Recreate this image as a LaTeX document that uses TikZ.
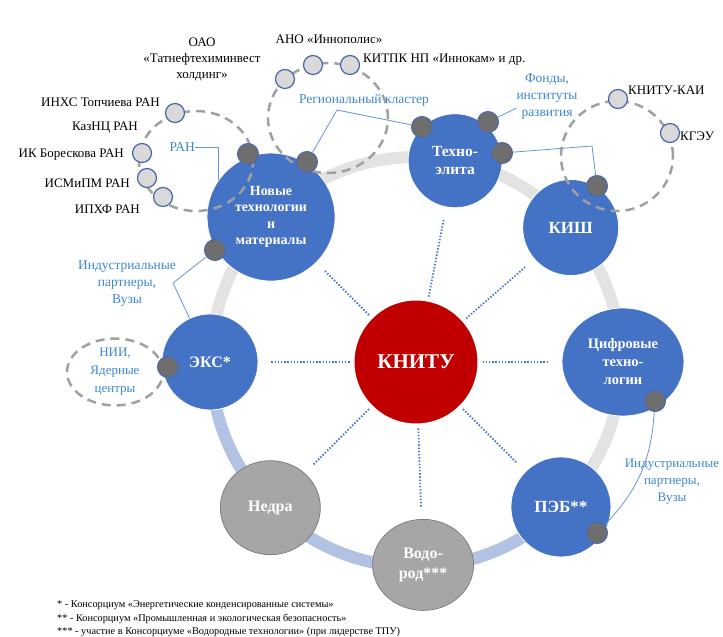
\documentclass[tikz,border=0pt]{standalone}
\usepackage{fontspec}
\setmainfont{Liberation Serif}
\usepackage{tikz}
\usetikzlibrary{positioning,calc,shapes.geometric}
\definecolor{nodeblue}{RGB}{68,114,196}
\definecolor{nodered}{RGB}{192,0,0}
\definecolor{nodegray}{RGB}{166,166,166}
\definecolor{ringgray}{RGB}{227,227,227}
\definecolor{ringblue}{RGB}{178,194,226}
\definecolor{hubdark}{RGB}{110,110,110}
\definecolor{memberlight}{RGB}{217,217,217}
\definecolor{dotedge}{RGB}{72,104,170}
\definecolor{dashgray}{RGB}{160,160,160}
\definecolor{calloutblue}{RGB}{100,150,215}
\definecolor{labelblue}{RGB}{60,135,205}
\newcommand{\fsz}[2]{\fontsize{#1}{#2}\selectfont}

\begin{document}
\begin{tikzpicture}[
  x=1pt, y=1pt,
  main/.style={circle, fill=nodered, draw=white, line width=1pt, text=white, font=\bfseries\fsz{21}{24}, minimum size=124pt, inner sep=0pt},
  bnode/.style={circle, fill=nodeblue, draw=white, line width=0.8pt, text=white, align=center, inner sep=0pt},
  gnode/.style={ellipse, fill=nodegray, draw=gray, line width=0.8pt, text=white, align=center, inner sep=0pt},
  hub/.style={circle, fill=hubdark, draw=dotedge, line width=1pt, minimum size=21pt, inner sep=0pt},
  member/.style={circle, fill=memberlight, draw=dotedge, line width=1.2pt, minimum size=19pt, inner sep=0pt},
  cluster/.style={ellipse, draw=dashgray, line width=2.5pt, dash pattern=on 9pt off 6pt, inner sep=0pt},
  link/.style={draw=nodeblue, line width=1.8pt, dash pattern=on 1.4pt off 1.8pt, shorten <=4pt, shorten >=12pt},
  callout/.style={draw=calloutblue, line width=0.8pt},
  lbl/.style={font=\fsz{13}{16}, align=center, inner sep=0pt},
  blbl/.style={lbl, font=\fsz{13.5}{17}, text=labelblue},
  note/.style={font=\fsz{10.3}{11}, anchor=west, inner sep=0pt}
]
\useasboundingbox (0,0) rectangle (723,-637);
\coordinate (c) at (416,-362);
% ring
\draw[ringgray, line width=12pt] (c) circle (205);
\draw[ringblue, line width=12pt] ($(c)+(180:205)$) arc (180:315:205);

% centre and consortia
\node[main] (knitu) at (c) {КНИТУ};
\node[bnode, minimum size=128pt, font=\bfseries\fsz{14}{16.5}] (novye) at ($(c)+(135:205)$) {Новые\\технологии\\и\\материалы};
\node[bnode, minimum size=94pt, font=\bfseries\fsz{15.5}{18}] (techno) at ($(c)+(79:205)$) {Техно-\\элита};
\node[bnode, minimum size=96pt, font=\bfseries\fsz{17}{20}] (kish) at ($(c)+(41:205)$) {КИШ};
\node[bnode, ellipse, minimum width=122pt, minimum height=108pt, font=\bfseries\fsz{14.5}{18}] (cifra) at ($(c)+(0:207)$) {Цифровые\\техно-\\логии};
\node[bnode, minimum size=100pt, font=\bfseries\fsz{17}{20}] (peb) at ($(c)+(-45:205)$) {ПЭБ**};
\node[gnode, minimum width=101pt, minimum height=91pt, font=\bfseries\fsz{16}{20}] (vodorod) at ($(c)+(-88:203)$) {Водо-\\род***};
\node[gnode, minimum width=100pt, minimum height=94pt, font=\bfseries\fsz{16}{20}] (nedra) at ($(c)+(-135:206)$) {Недра};
\node[bnode, minimum size=96pt, font=\bfseries\fsz{16}{20}] (eks) at ($(c)+(180:206)$) {ЭКС*};

\draw[link] (knitu) -- (novye);
\draw[link] (knitu) -- (techno);
\draw[link] (knitu) -- (kish);
\draw[link] (knitu) -- (cifra);
\draw[link] (knitu) -- (peb);
\draw[link] (knitu) -- (vodorod);
\draw[link] (knitu) -- (nedra);
\draw[link] (knitu) -- (eks);

% clusters
\node[cluster, minimum width=114pt, minimum height=100pt] (rancl) at (196,-161) {};
\node[cluster, minimum width=120pt, minimum height=110pt] (regcl) at (328,-118) {};
\node[cluster, minimum width=112pt, minimum height=110pt] (kishcl) at (617,-156) {};
\node[cluster, minimum width=96pt, minimum height=64pt, font=\fsz{13}{18}, text=labelblue, align=center] (nii) at (115,-372) {НИИ,\\Ядерные\\центры};

% hubs on the consortia
\node[hub] (nh1) at (248,-154) {};
\node[hub] (nh2) at (307,-162) {};
\node[hub] (nh3) at (215,-250) {};
\node[hub] (th1) at (422,-127) {};
\node[hub] (th2) at (488,-122) {};
\node[hub] (th3) at (502,-153) {};
\node[hub] (kh) at (597,-186) {};
\node[hub] (eh) at (168,-367) {};
\node[hub] (ch) at (655,-401) {};
\node[hub] (ph) at (597,-533) {};

% members
\node[member] (ran1) at (175,-113) {};
\node[member] (ran2) at (142,-153) {};
\node[member] (ran3) at (147,-178) {};
\node[member] (ran4) at (163,-197) {};
\node[member] (reg1) at (285,-79) {};
\node[member] (reg2) at (313,-65) {};
\node[member] (reg3) at (350,-65) {};
\node[member] (kai) at (618,-99) {};
\node[member] (kgeu) at (670,-133) {};

% labels
\node[lbl] (tatneft) at (202,-59) {ОАО\\«Татнефтехиминвест\\холдинг»};
\node[lbl] (innopolis) at (329,-39) {АНО «Иннополис»};
\node[lbl, anchor=west] (innokam) at (363,-60) {КИТПК НП «Иннокам» и др.};
\node[lbl, anchor=east] (inhs) at (160,-102) {ИНХС Топчиева РАН};
\node[lbl, anchor=east] (kaznc) at (138,-128) {КазНЦ РАН};
\node[lbl, anchor=east] (ik) at (124,-155) {ИК Борескова РАН};
\node[lbl, anchor=east] (ismipm) at (130,-183) {ИСМиПМ РАН};
\node[lbl, anchor=east] (iphf) at (140,-209) {ИПХФ РАН};
\node[lbl, anchor=west] (kailbl) at (628,-90) {КНИТУ-КАИ};
\node[lbl, anchor=west] (kgeulbl) at (680,-136) {КГЭУ};

\node[blbl, anchor=east] (ranlbl) at (195,-147) {РАН};
\node[blbl] (reglbl) at (364,-100) {Региональный кластер};
\node[blbl] (fondy) at (547,-97) {Фонды,\\институты\\развития};
\node[blbl] (indl) at (127,-284) {Индустриальные\\партнеры,\\Вузы};
\node[blbl, font=\fsz{13}{17}] (indr) at (672,-482) {Индустриальные\\партнеры,\\Вузы};

% callouts
\coordinate (regv) at (337,-110);
\coordinate (kishv) at (592,-146);
\coordinate (indv) at (173,-283);
\draw[callout] (ranlbl.east) -| (novye.145);
\draw[callout] (th1) -- (regv) -- (nh2);
\draw[callout] (th2) -- (fondy.200);
\draw[callout] (th3) -- (kishv) -- (kh);
\draw[callout] (nh3) -- (indv) -- (eks);
\draw[callout] (ch) to[bend left=20] (ph);

% footnotes
\node[note] (fn1) at (57,-605) {* - Консорциум «Энергетические конденсированные системы»};
\node[note] (fn2) at (57,-619) {** - Консорциум «Промышленная и экологическая безопасность»};
\node[note] (fn3) at (57,-632) {*** - участие в Консорциуме «Водородные технологии»  (при лидерстве  ТПУ)};
\end{tikzpicture}
\end{document}
